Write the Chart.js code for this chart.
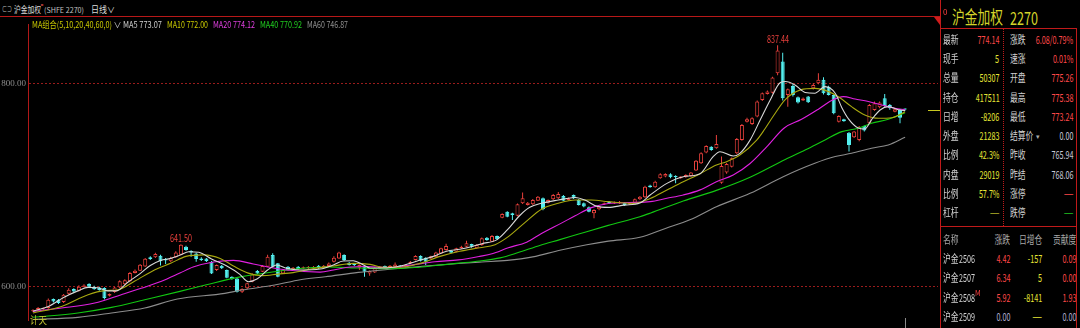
<!DOCTYPE html>
<html>
<head>
<meta charset="utf-8">
<title>沪金加权 日线</title>
<script src="https://cdn.jsdelivr.net/npm/chart.js@4.4.1/dist/chart.umd.min.js"></script>
<style>
html,body{margin:0;padding:0;background:#000;}
body{width:1080px;height:328px;overflow:hidden;position:relative;}
.t{position:absolute;white-space:nowrap;line-height:1;font-family:"Liberation Sans Narrow","Noto Sans CJK SC",sans-serif;}
.c{font-family:"Noto Sans CJK SC",sans-serif;}
.ln{position:absolute;}
#cv{position:absolute;left:0;top:17px;}
</style>
</head>
<body>
<canvas id="cv" width="940" height="311"></canvas>
<div class="ln" style="left:0;top:16px;width:941px;height:1px;background:#b81818"></div>
<div class="ln" style="left:940px;top:0;width:1px;height:328px;background:#c01a1a"></div>
<div class="ln" style="left:940px;top:28px;width:137px;height:1px;background:#c01a1a"></div>
<div class="ln" style="left:1076px;top:28px;width:1px;height:300px;background:#c01a1a"></div>
<div class="ln" style="left:940px;top:226px;width:137px;height:1px;background:#c01a1a"></div>
<div class="ln" style="left:1003px;top:29px;width:0;height:197px;border-left:1px dotted #c01a1a"></div>
<div class="ln" style="left:934px;top:17px;width:0;height:0;border-top:8px solid #d01c1c;border-left:6px solid transparent"></div>
<div id="ptick" class="ln" style="left:928px;width:12px;height:1px;background:#c8c820"></div>
<div id="vtick" class="ln" style="top:318px;width:1px;height:10px;background:#8a8a8a"></div>
<div id="txt"></div>
<script>
// ---------- data ----------
const yTicks = [600, 800];
const opens = [
575.5,577,577.5,578.6,587.4,586.8,584.5,592.7,597.3,595.7,
599.6,602.2,599.6,598.9,598.3,590.7,594.3,598.9,602,604.9,
613.1,615.4,619.6,628.5,628.5,630.2,627.2,624.6,628.5,631.1,
639,634.7,632.4,627.5,627.5,624.2,616,620.3,616,609.4,
607.8,594.7,598,604.5,615,614.4,619.3,630.8,622.6,612.7,
619.3,617,619.3,617.5,617.7,618,620.3,618.3,620,624.2,
627.5,630.8,623.2,622.2,618.3,620.3,612.7,613.7,617.7,620,
619,619.3,620.6,619.3,622.6,625.9,629.8,628.2,627.5,629.2,
632.4,635.7,634.7,634.1,637.4,639,641.6,637.4,640.7,647.9,
644,649.6,667.6,673.5,671.9,669.6,681.8,680.1,680.8,684.4,
686.7,682.4,685.7,686.7,689,685.1,690,685,681.8,677.8,
671.9,675.8,680.8,683.4,681.5,681.8,682.4,680.5,682.4,685.7,
687.7,699.2,697.5,706.4,708.1,710.4,708.7,706.4,707.4,708.7,
714,721.2,731.7,737.6,736,702.1,712,717.9,731,744.2,
762.2,760,767.2,783.6,789.5,790.8,809.9,821.4,788.5,797.4,
786.2,783,786.9,795.1,800,803.4,796.7,788.5,762.2,764.5,
751.4,746.8,744.2,758,760.6,773.7,776.4,785.2,778.7,772,
773.7,775.26];
const closes = [
576.5,578.5,578,586.8,585.1,583.5,591.7,596.6,595,599.6,
600.9,599.6,597,596.3,588.4,592.3,598.9,604.9,606,613.1,
615.4,621.3,627.2,626.9,631.8,624.6,625.5,627.9,633.4,640.9,
635.7,633.4,626.9,625.9,624.9,612.7,620.9,617.7,608.5,607.2,
594.7,597.3,602.9,611.7,612.7,620,629.2,619.3,609.5,616,
616,618.3,617,618.8,619,619.3,617.7,620.3,622.5,628.2,
633.4,625.9,621,621,621,614.4,615,617.7,619.3,618.6,
620.3,621.6,619.3,620.9,624.2,629.8,625.2,624.2,629.5,633.4,
637.4,639.7,633.1,637.4,639,642.3,639,640.7,647.3,645.6,
649.6,646.3,671.2,668.6,670.3,680.8,686.7,682.4,685,688.3,
675.8,685,690,691,684.4,686.7,686.7,680.1,678.5,673.5,
675.2,678.5,681.8,681.8,682.5,683.4,680.1,682,685.7,688.3,
698.2,697.5,703.1,710.4,710.7,707.4,707.4,708.1,709.7,712,
723.8,731,738.3,734.3,740.2,718.5,720.5,726.1,745.2,759,
764.5,765.5,782,790.2,791.8,805.6,832.2,785.2,794.1,788.5,
781,785,781.3,798.4,803.4,790.2,788.5,770.5,767.8,762.6,
739.3,752.4,757.3,753.4,778.7,780.3,781,777.7,775.4,774.4,
765.94,774.14];
const highs = [
577.5,579.5,579,588,588,587.5,592.5,598,598,601,
602,603,600.5,599.5,599,593,599.5,606,607,614,
616.5,622,628,629.5,633,631,628,629,634.5,641.5,
640,635.5,633,628.5,628,625,621.5,621,616.5,610,
608.5,598,603.5,612.5,616,621,631,632.5,623,617,
620,619,620,619.5,620,620,621,621,623.5,629.5,
634,631.5,624,623,621.5,621,615.5,618.5,620,620.5,
621,623.5,621,621.5,625,630.5,630.5,628.5,630,634,
638,642,635.5,638,640,645,642,641.5,648,648.5,
650.5,650,672,674,672.5,681.5,692.3,683,686,689,
687.5,685.5,691,693,690,687.5,690.5,686,682.5,678.5,
676,679,682.5,684,683.5,684,683,682.8,686.5,689,
699,700,704,711.5,711.5,711.5,709.5,708.5,710.5,712.5,
724.5,732,739,738,749.1,727.8,721.5,727,746,760,
766,766.5,783,791,793,806.5,837.44,830,795,799,
787,786,787.5,800,809.9,806,797.5,789,768.5,765,
752,753,758,758.5,779.5,782,782,789.5,779.5,775,
774.5,775.38];
const lows = [
574.5,576,576.5,578,584,582.5,583.5,592,594,595,
599,599,596.5,595.5,587,590,593.5,598,601,604,
612.5,615,619,626,628,620.6,621.9,624,628,630.5,
635,629,624.2,625,624,612,615,617,608,606.5,
594,593.5,597,604,612,614,619,618.5,609,612,
615.5,616,616.5,617,617,617.5,617,617.5,619.5,623.5,
627,625,620.5,620,616,609.4,610.4,613,617,618,
618.5,619,618.5,618.5,622,625.5,624.5,621,627,628.5,
632,635,632.5,633.5,637,638.5,638,637,640,645,
643.5,645.5,667,668,665.3,669,681,679.5,680,684,
675,681.5,685,686,684,684.5,686,679.5,678,673,
667,675,680,681,681,681,679,680,682,685,
687,697,697,706,707.5,706.5,701.5,706,707,708,
713.5,720.5,731,733.5,735.5,701,711,717,730,743.5,
761.5,759,766.5,782.5,789,790,808,783,777,787,
780,782.5,780.5,794,799,789,788,769.5,761.5,762,
732.7,746,743,752.5,760,773,775.5,777,774,771.5,
760.6,773.24];

// moving averages: [candle index, value]
const ma5 = [[0,575.5],[3,580],[6,589],[8.8,595.5],[10.8,598.9],[12.7,598.5],[14.7,595.5],[16.3,595.5],[18.6,604],[21,612.5],[23,620.5],[25,625.5],[27,627.5],[29,631],[30.5,634],[32.5,633.5],[35,627],[38,620],[40.5,612],[42.2,604.5],[44,607.5],[46,616],[47.8,621],[49.7,617.7],[52.4,616],[56.3,617],[58.9,621],[60.8,625],[62.8,625.2],[64.8,621],[66.1,618],[68.7,618],[72,620],[73.9,622.6],[75.9,625.9],[78.5,629.5],[81.1,634.5],[83.7,636.5],[86.3,639.5],[88,642],[91,646],[93,655.5],[95.5,670],[97.4,677.8],[99.7,681.8],[103,685],[106.3,687.5],[108.2,685],[110.5,679],[112.8,677.8],[116,680],[119,682],[121,689.9],[124.3,701.4],[127.5,708],[130.8,711],[133.4,728],[134.7,732.6],[137.3,728.4],[138.6,731],[140.6,744],[142.6,764],[144.5,783],[146.5,800.6],[147.5,801.7],[149.4,798.4],[151.4,791],[153.3,790.2],[155.3,796.7],[157.3,790.2],[158.6,776],[159.9,765],[161.8,756],[163.1,755],[164.4,764],[166.1,773.7],[167.7,777],[169.7,774],[171,773.07]];
const ma10 = [[0,573.7],[5.6,580.2],[10.8,591.7],[14.1,595.7],[16.7,596.6],[19.9,604.9],[23.9,616.4],[27.1,622.9],[30,629.5],[33.5,631],[36.7,627.5],[39.3,620],[42.2,613],[45,610.5],[48,612],[51,613.5],[55,617.5],[58.9,620],[62.8,622.6],[66.1,621.6],[68.7,618.7],[72,618.7],[75.9,622.6],[79.8,629.5],[83.7,634.5],[87.6,638],[90.6,641],[93.2,648.9],[96.5,663],[99.7,676],[103,681.8],[106.3,685],[109.5,685],[112.8,683.4],[117.7,681.7],[121,686.5],[124.3,694.9],[127.5,703],[130.8,711],[134,719.5],[136,722.8],[138.6,729.3],[141.9,744],[143.5,755],[145.2,768],[147.5,784],[150.5,793.5],[153.3,795],[156,791.8],[158,786.5],[160.5,777],[163.1,768.8],[165.8,765.5],[168.4,766],[171,772.00]];
const ma20 = [[0,575.3],[5.6,578.6],[12.1,583.5],[17.3,591.7],[21.2,598],[25.2,604.9],[28.8,613],[31.4,619],[35.4,624],[39.3,625.5],[43.2,622],[45.8,619.3],[49.7,616],[56.3,614],[58.9,616],[62.2,619],[65.4,619.5],[70.3,618.5],[74.2,620.9],[78.8,624.2],[83.4,626],[87.6,629.5],[90,632],[93.2,638],[96.8,643.5],[99.7,652],[103.7,662.5],[106.3,669.5],[109.5,677.5],[112.8,681.5],[117,682.5],[121,683.4],[124.3,686.7],[127.5,690],[130.8,695],[134,703],[137.3,709.6],[140.6,721],[143.9,737.6],[147.3,756],[150.7,764.5],[154,774.5],[156.6,783],[158.9,786.9],[161.2,784.5],[163.8,782],[166.4,778.7],[169,775.4],[171,774.12]];
const ma40 = [[0,569.5],[8.8,573.7],[15.4,579.2],[21.9,586.8],[28.8,595],[34,601.5],[40.9,609.5],[47.4,614.4],[52.4,617.5],[58,619],[64,618],[70.3,617.3],[75,618.5],[79,620.5],[83.5,622.8],[87.6,625],[91.6,628],[95,633],[99.5,640.5],[103.3,646],[107,651.5],[112.8,660],[119,668.6],[121,672],[127.5,684],[134,694.5],[140.6,707.5],[147.5,725],[151.4,734.3],[155.3,744.2],[158.6,752.4],[161.8,755.7],[164.4,760.6],[167.7,764.5],[171,770.92]];
const ma60 = [[0,567.3],[8.8,569.4],[15.4,573.7],[21.9,578.6],[28.3,587.5],[37.6,593],[40.9,596.3],[47.4,601.2],[52.4,606.5],[57.3,609.4],[63.8,613.7],[70.4,617],[77,620],[83.4,622.5],[88,624],[93,625.5],[98,629],[103.3,635.5],[108.6,641],[112.8,644.5],[119,648.3],[124,657],[128.8,665.5],[134,678.4],[140.6,691.6],[147.1,708],[153.3,721.2],[157.3,727.8],[160.5,731],[164.4,736],[167.7,739.3],[171,746.87]];
const maNames = ['MA5','MA10','MA20','MA40','MA60'];
const peakIdx = [29, 146];

const titleName = '沪金加权';
const titleCode = '(SHFE 2270)';
const periodName = '日线';
const maGroup = 'MA组合(5,10,20,40,60,0)';
const panelTitle = ['沪金加权', '2270'];
const panelLabelsL = ['最新','现手','总量','持仓','日增','外盘','比例','内盘','比例','杠杆'];
const panelValuesL = ['774.14','5','50307','417511','-8206','21283','42.3%','29019','57.7%','—'];
const panelLabelsR = ['涨跌','速涨','开盘','最高','最低','结算价','昨收','昨结','涨停','跌停'];
const panelValuesR = ['6.08/0.79%','0.01%','775.26','775.38','773.24','0.00','765.94','768.06','—','—'];
const tblHead = ['名称','涨跌','日增仓','贡献度'];
const tblCodes = ['2506','2507','2508','2509'];
const tblChg = ['4.42','6.34','5.92','0.00'];
const tblOi = ['-157','5','-8141','—'];
const tblContrib = ['0.09','0.00','1.93','0.00'];
const footNote = '计天';

// ---------- styles ----------
const UPC = '#e8403c', DNC = '#54f0f0';
const maColors = ['#d8d8d8','#a8a810','#e020e0','#12c812','#8c8c8c'];
const maTextColors = ['#d0d0d0','#c8c800','#e040e0','#20d020','#909090'];
const R = '#ff4848', Y = '#e6e635', G = '#c8c8d8', W = '#d2d2d2', OL = '#b4b428', GR = '#20c020', BG = '#b0b0d0';
const colL = [R,Y,Y,Y,Y,Y,Y,Y,Y,OL];
const colR = [R,R,R,R,R,G,G,G,R,GR];

const box = document.getElementById('txt');
function T(txt, x, cy, fs, color, sx, opt) {
  opt = opt || {};
  const d = document.createElement('div');
  d.className = 't' + (opt.cjk ? ' c' : '');
  d.textContent = txt;
  d.style.fontSize = fs + 'px';
  d.style.top = (cy - fs / 2) + 'px';
  d.style.color = color;
  if (opt.right) { d.style.right = (1080 - x) + 'px'; d.style.transformOrigin = 'right center'; }
  else { d.style.left = x + 'px'; d.style.transformOrigin = 'left center'; }
  box.appendChild(d);
  if (opt.w) sx = opt.w / d.getBoundingClientRect().width;
  if (sx && sx !== 1) d.style.transform = 'scaleX(' + sx + ')';
  return d;
}
function natural(txt, fs, cjk) {
  const d = T(txt, 0, -50, fs, '#000', 1, {cjk: cjk});
  const w = d.getBoundingClientRect().width; d.remove(); return w;
}
const numSx = 22 / natural('774.14', 11, false);
const cjkSx = 15.6 / natural('最新', 11, true);

// header
T('⊂⊃', 2, 9, 8, '#bbbbbb', 1, {w: 10});
T(titleName, 14, 9, 9, '#dcdcdc', 1, {cjk: true, w: 27});
T('°', 40.5, 6.5, 8, '#ff5a5a', 1);
T(titleCode, 43.5, 9.5, 7.5, '#c0c0c0', 1, {w: 40});
T(periodName, 91, 9, 9, '#dcdcdc', 1, {cjk: true, w: 16});
T('∨', 107, 9.5, 8, '#dcdcdc', 1);

// MA legend
T(maGroup, 32, 24.3, 9, '#c8c800', 1, {w: 80});
T('∨', 113.5, 24.8, 8, '#c8c8c8', 1);
const maAll = [ma5, ma10, ma20, ma40, ma60];
const maLegX = [123, 167, 213, 260, 307];
const maLegW = [39, 41, 42, 42, 41];
maAll.forEach((arr, k) => {
  T(maNames[k] + ' ' + arr[arr.length - 1][1].toFixed(2), maLegX[k], 24.3, 9, maTextColors[k], 1, {w: maLegW[k]});
});
T(footNote, 30, 320, 10, '#c8c832', 1, {cjk: true, w: 17});

// right panel
T('0', 943, 11.5, 8, '#ff4040', 1);
T(panelTitle[0], 952, 16, 18, '#d4d42a', 1, {cjk: true, w: 51});
T(panelTitle[1], 1010, 16.5, 18, '#d4d42a', 1, {w: 28});
panelLabelsL.forEach((lab, k) => {
  const cy = 39.3 + k * 19.26;
  T(lab, 943, cy, 11, W, cjkSx, {cjk: true});
  T(panelValuesL[k], 999.5, cy, 11, colL[k], panelValuesL[k] === '—' ? 1 : numSx, {right: true});
  T(panelLabelsR[k], 1010, cy, 11, W, cjkSx, {cjk: true});
  T(panelValuesR[k], 1073.5, cy, 11, colR[k], panelValuesR[k] === '—' ? 1 : numSx, {right: true});
});
T('▾', 1036, 136, 7, '#aaaaaa', 1);
T(tblHead[0], 943, 239.3, 11, '#a8a8a8', cjkSx, {cjk: true});
T(tblHead[1], 1010, 239.3, 11, '#a8a8a8', cjkSx, {cjk: true, right: true});
T(tblHead[2], 1019, 239.3, 11, '#a8a8a8', cjkSx, {cjk: true});
T(tblHead[3], 1053, 239.3, 11, '#a8a8a8', cjkSx, {cjk: true});
tblCodes.forEach((code, k) => {
  const cy = 258.5 + k * 19.3;
  const last = k === tblCodes.length - 1;
  T('沪金', 943, cy, 11, W, cjkSx, {cjk: true});
  T(code, 959, cy, 11, W, numSx);
  T(tblChg[k], 1010, cy, 11, last ? BG : R, numSx, {right: true});
  T(tblOi[k], 1042, cy, 11, Y, tblOi[k] === '—' ? 1 : numSx, {right: true});
  T(tblContrib[k], 1076.5, cy, 11, last ? BG : R, numSx, {right: true});
});
T('M', 975, 293.5, 7, '#ff4040', 1);

// ---------- chart ----------
Chart.defaults.font.family = 'Liberation Sans Narrow';
const N = opens.length;
const isUp = opens.map((o, i) => closes[i] >= o);
const maSets = maAll.map((arr, k) => ({
  type: 'line', label: maNames[k],
  data: arr.map(p => ({x: p[0], y: p[1]})),
  borderColor: maColors[k], borderWidth: 1.1, pointRadius: 0,
  cubicInterpolationMode: 'monotone', fill: false, order: 0
}));
const chart = new Chart(document.getElementById('cv'), {
  type: 'bar',
  data: {
    datasets: [
      ...maSets,
      {type: 'bar', label: 'K', data: opens.map((o, i) => ({x: i, y: [o, closes[i]]})),
       backgroundColor: isUp.map(u => u ? '#000000' : DNC), borderColor: isUp.map(u => u ? UPC : DNC),
       borderWidth: 1, borderSkipped: false, minBarLength: 1, grouped: false,
       categoryPercentage: 1, barPercentage: 1, maxBarThickness: 4, inflateAmount: 0, order: 1},
      {type: 'bar', label: 'HL', data: lows.map((l, i) => ({x: i, y: [l, highs[i]]})),
       backgroundColor: isUp.map(u => u ? UPC : DNC), borderWidth: 0, grouped: false,
       categoryPercentage: 1, barPercentage: 1, maxBarThickness: 1, inflateAmount: 0, order: 2}
    ]
  },
  options: {
    responsive: false, animation: false, events: [], devicePixelRatio: 1,
    layout: {padding: {left: 0, right: 2, top: 0, bottom: 0}},
    plugins: {legend: {display: false}, tooltip: {enabled: false}},
    scales: {
      x: {type: 'linear', display: false, offset: false, min: -1, max: 177},
      y: {type: 'linear', position: 'left', min: 559, max: 865, beginAtZero: false,
          afterFit(s) { s.width = 28; },
          afterBuildTicks(s) { s.ticks = yTicks.map(v => ({value: v})); },
          ticks: {color: '#8c8c8c', font: {family: 'Liberation Sans Narrow', size: 9}, padding: 2,
                  callback: v => Number(v).toFixed(2)},
          grid: {color: '#9a1c1c', lineWidth: 1, drawTicks: false},
          border: {display: true, color: '#b01818', width: 1, dash: [2, 2]}
      }
    }
  }
});
// fit the scales so that 800 / 600 and the first candle land where the reference has them
const ca = chart.chartArea;
const PX = 203 / 200;
chart.options.scales.y.max = 800 + (66.3 - ca.top) / PX;
chart.options.scales.y.min = 600 - (ca.bottom - 269.3) / PX;
chart.options.scales.x.min = -(33 - ca.left) / 5.1;
chart.options.scales.x.max = chart.options.scales.x.min + (ca.right - ca.left) / 5.1;
chart.update('none');

const xs = chart.scales.x, ys = chart.scales.y;
peakIdx.forEach(i => {
  const d = T(highs[i].toFixed(2), 0, 0, 10, UPC, 1);
  const w = d.getBoundingClientRect().width;
  const sx = 22 / w;
  d.style.left = (xs.getPixelForValue(i) - 11) + 'px';
  d.style.top = (17 + ys.getPixelForValue(highs[i]) - 11) + 'px';
  d.style.transformOrigin = 'left center';
  d.style.transform = 'scaleX(' + sx + ')';
});
document.getElementById('ptick').style.top = Math.round(17 + ys.getPixelForValue(closes[N - 1])) + 'px';
document.getElementById('vtick').style.left = Math.round(xs.getPixelForValue(N - 1)) + 'px';
</script>
</body>
</html>
